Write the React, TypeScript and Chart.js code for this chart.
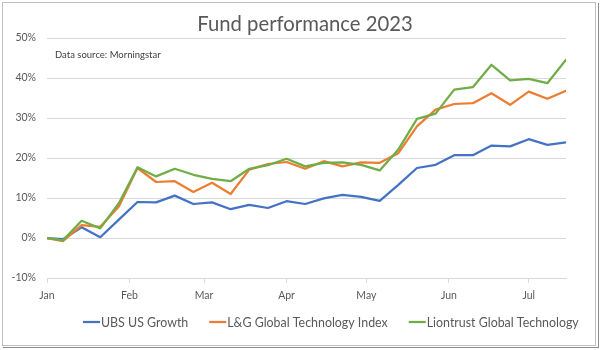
import React, { useEffect, useRef } from "react";
import { Chart, registerables } from "chart.js";

Chart.register(...registerables);

// ---- Data ----
const chartTitle = "Fund performance 2023";
const sourceNote = "Data source: Morningstar";
const monthLabels = ["Jan", "Feb", "Mar", "Apr", "May", "Jun", "Jul"];
const weekDates = [
  "2023-01-01", "2023-01-07", "2023-01-14", "2023-01-21", "2023-01-28",
  "2023-02-04", "2023-02-11", "2023-02-18", "2023-02-25",
  "2023-03-04", "2023-03-11", "2023-03-18", "2023-03-25",
  "2023-04-01", "2023-04-08", "2023-04-15", "2023-04-22", "2023-04-29",
  "2023-05-06", "2023-05-13", "2023-05-20", "2023-05-27",
  "2023-06-03", "2023-06-10", "2023-06-17", "2023-06-24",
  "2023-07-01", "2023-07-08", "2023-07-15",
];
const seriesNames = ["UBS US Growth", "L&G Global Technology Index", "Liontrust Global Technology"];
const ubsUsGrowth = [0, -0.3, 2.7, 0.2, 4.6, 9.0, 8.9, 10.6, 8.5, 8.9, 7.2, 8.3, 7.5, 9.2, 8.5, 9.9, 10.8, 10.3, 9.3, 13.3, 17.5, 18.3, 20.7, 20.7, 23.1, 22.9, 24.7, 23.3, 23.9];
const lgGlobalTech = [0, -0.8, 3.2, 2.8, 7.9, 17.5, 14.0, 14.2, 11.5, 13.8, 11.0, 17.1, 18.5, 19.0, 17.3, 19.2, 17.9, 18.9, 18.8, 21.2, 27.9, 32.1, 33.5, 33.7, 36.2, 33.3, 36.6, 34.8, 36.8];
const liontrustGlobalTech = [0, -0.6, 4.3, 2.4, 8.7, 17.7, 15.4, 17.3, 15.8, 14.8, 14.2, 17.3, 18.2, 19.8, 17.9, 18.8, 18.9, 18.3, 16.9, 22.1, 29.8, 31.1, 37.1, 37.7, 43.3, 39.4, 39.8, 38.7, 44.6];
const yTickValues = [-10, 0, 10, 20, 30, 40, 50];
const seriesColors = ["#4472C4", "#ED7D31", "#70AD47"];

// ---- Helpers ----
const DAY = 86400000;
const origin = Date.UTC(2023, 0, 1);
const dayOf = (s: string) => (Date.parse(s + "T00:00:00Z") - origin) / DAY;
const weekDays = weekDates.map(dayOf);
const monthStarts = monthLabels.map((_, m) => (Date.UTC(2023, m, 1) - origin) / DAY);
const FONT = "Lato, 'Open Sans', sans-serif";
const TEXT = "#595959";

const overlayPlugin = {
  id: "overlay",
  afterDraw(chart: any) {
    const { ctx, chartArea } = chart;
    ctx.save();
    // title
    ctx.fillStyle = TEXT;
    ctx.font = `20.3px ${FONT}`;
    ctx.textAlign = "center";
    ctx.textBaseline = "alphabetic";
    ctx.fillText(chartTitle, 305, 31);
    // source note
    ctx.fillStyle = "#404040";
    ctx.font = `9.5px ${FONT}`;
    ctx.textAlign = "left";
    ctx.textBaseline = "middle";
    ctx.fillText(sourceNote, chartArea.left + 8, 55);
    // legend
    ctx.font = `12.4px ${FONT}`;
    let x = 83;
    const y = 322;
    chart.data.datasets.forEach((ds: any) => {
      ctx.strokeStyle = ds.borderColor;
      ctx.lineWidth = 2.25;
      ctx.beginPath();
      ctx.moveTo(x, y);
      ctx.lineTo(x + 17, y);
      ctx.stroke();
      ctx.fillStyle = TEXT;
      ctx.fillText(ds.label, x + 18, y + 0.5);
      x += 18 + ctx.measureText(ds.label).width + 21;
    });
    ctx.restore();
  },
};

export default function App() {
  const ref = useRef<HTMLCanvasElement | null>(null);
  useEffect(() => {
    if (!ref.current) return;
    const series = [ubsUsGrowth, lgGlobalTech, liontrustGlobalTech];
    const chart = new Chart(ref.current, {
      type: "line",
      data: {
        datasets: series.map((vals, i) => ({
          label: seriesNames[i],
          data: vals.map((v, j) => ({ x: weekDays[j], y: v })),
          borderColor: seriesColors[i],
          backgroundColor: seriesColors[i],
          borderWidth: 2.25,
          pointRadius: 0,
          tension: 0,
          borderJoinStyle: "round",
          borderCapStyle: "round",
          order: 3 - i,
        })),
      },
      options: {
        animation: false,
        responsive: false,
        maintainAspectRatio: false,
        layout: { padding: { left: 0, right: 34, top: 38, bottom: 32 } },
        plugins: {
          legend: { display: false },
          title: { display: false },
          tooltip: { enabled: false },
        },
        scales: {
          x: {
            type: "linear",
            min: 0,
            max: weekDays[weekDays.length - 1],
            afterBuildTicks: (s: any) => {
              s.ticks = monthStarts.map((v) => ({ value: v }));
            },
            afterFit: (s: any) => {
              s.height = 40;
            },
            ticks: {
              autoSkip: false,
              maxRotation: 0,
              minRotation: 0,
              padding: 6,
              color: TEXT,
              font: { family: FONT, size: 10.5 },
              callback: (v: any) => {
                const k = monthStarts.indexOf(Number(v));
                return k >= 0 ? monthLabels[k] : "";
              },
            },
            grid: { drawOnChartArea: false, drawTicks: true, tickLength: 5, color: "#d9d9d9", lineWidth: 1 },
            border: { display: true, color: "#d9d9d9", width: 1 },
          },
          y: {
            type: "linear",
            min: -10,
            max: 50,
            afterBuildTicks: (s: any) => {
              s.ticks = yTickValues.map((v) => ({ value: v }));
            },
            afterFit: (s: any) => {
              s.width = 47;
            },
            ticks: {
              padding: 11,
              color: TEXT,
              font: { family: FONT, size: 10.5 },
              callback: (v: any) => `${v}%`,
            },
            grid: { color: "#d9d9d9", drawTicks: false, lineWidth: 1 },
            border: { display: false },
          },
        },
      },
      plugins: [overlayPlugin],
    } as any);
    return () => chart.destroy();
  }, []);

  return (
    <div style={{ position: "fixed", left: 0, top: 0, width: 600, height: 350, background: "#fff" }}>
      <canvas ref={ref} width={600} height={350} style={{ position: "absolute", left: 0, top: 0, width: 600, height: 350 }} />
      <div style={{ position: "absolute", left: 2, top: 2, width: 592, height: 342, border: "1px solid #bfbfbf", pointerEvents: "none" }} />
      <div style={{ position: "absolute", left: 3, top: 3, width: 595, height: 344, borderRight: "1px solid #8c8c8c", borderBottom: "1px solid #8c8c8c", pointerEvents: "none" }} />
    </div>
  );
}
